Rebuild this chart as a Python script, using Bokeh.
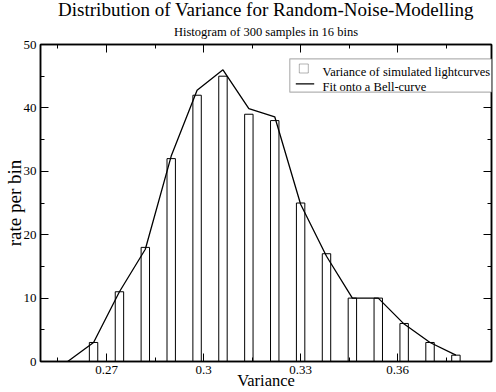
from bokeh.plotting import figure
from bokeh.models import (LinearAxis, FixedTicker, Title, Label, BoxAnnotation,
                          Range1d, CustomJSTickFormatter)
from bokeh.embed import file_html
from bokeh.resources import INLINE

# ---------------- data ----------------
title_text = "Distribution of Variance for Random-Noise-Modelling"
subtitle_text = "Histogram of 300 samples in 16 bins"
x_label = "Variance"
y_label = "rate per bin"
legend_hist = "Variance of simulated lightcurves"
legend_fit = "Fit onto a Bell-curve"

bin_centers = [0.258, 0.266, 0.274, 0.282, 0.290, 0.298, 0.306, 0.314,
               0.322, 0.330, 0.338, 0.346, 0.354, 0.362, 0.370, 0.378]
counts = [0, 3, 11, 18, 32, 42, 45, 39, 38, 25, 17, 10, 10, 6, 3, 1]
fit_values = [0, 3, 11, 17.7, 32.4, 42.8, 46, 39.9, 38.6, 24.8, 16.6, 10, 10, 5.9, 3, 1]

x_ticks = [0.27, 0.30, 0.33, 0.36]
x_minor_ticks = [0.255, 0.285, 0.315, 0.345, 0.375]
y_ticks = [0, 10, 20, 30, 40, 50]
y_minor_ticks = [5, 15, 25, 35, 45]

FONT = "Liberation Serif"

p = figure(width=496, height=392,
           x_range=Range1d(0.2496, 0.3890), y_range=Range1d(0, 50),
           output_backend="svg", toolbar_location=None,
           min_border_left=38, min_border_right=5, min_border_top=44,
           min_border_bottom=31, title=title_text)
p.styles = {"position": "absolute", "left": "0px", "top": "0px"}
p.background_fill_color = "white"
p.border_fill_color = "white"
p.outline_line_color = "black"
p.outline_line_width = 1.5
p.grid.visible = False

p.title.align = "center"
p.title.text_font = FONT
p.title.text_font_size = "19px"
p.title.text_font_style = "normal"
p.title.text_color = "black"
p.title.standoff = -7

sub = Title(text=subtitle_text, align="center", text_font=FONT,
            text_font_size="12.5px", text_font_style="normal",
            text_color="black", standoff=12)

xt = FixedTicker(ticks=x_ticks, minor_ticks=x_minor_ticks)
yt = FixedTicker(ticks=y_ticks, minor_ticks=y_minor_ticks)
xfmt = CustomJSTickFormatter(code="return tick.toString();")


def style_axis(ax, show):
    ax.axis_line_width = 1.5
    ax.axis_line_color = "black"
    ax.major_tick_in = 8
    ax.major_tick_out = 0
    ax.minor_tick_in = 4
    ax.minor_tick_out = 0
    ax.major_tick_line_color = "black"
    ax.minor_tick_line_color = "black"
    ax.major_tick_line_width = 1
    ax.minor_tick_line_width = 1
    ax.major_label_text_font = FONT
    if show:
        ax.major_label_text_color = "black"
        ax.major_label_text_font_size = "13px"
        ax.major_label_standoff = 4
    else:
        ax.major_label_text_color = None
        ax.major_label_text_font_size = "0px"
        ax.major_label_standoff = 0


xa = p.xaxis[0]
xa.ticker = xt
xa.formatter = xfmt
style_axis(xa, True)
xa.axis_label = x_label
xa.axis_label_text_font = FONT
xa.axis_label_text_font_size = "16.5px"
xa.axis_label_text_font_style = "normal"
xa.axis_label_text_color = "black"
xa.axis_label_standoff = -6

ya = p.yaxis[0]
ya.ticker = yt
style_axis(ya, True)
ya.axis_label = y_label
ya.axis_label_text_font = FONT
ya.axis_label_text_font_size = "19px"
ya.axis_label_text_font_style = "normal"
ya.axis_label_text_color = "black"
ya.axis_label_standoff = -4

top_ax = LinearAxis(ticker=xt, formatter=xfmt)
style_axis(top_ax, False)
right_ax = LinearAxis(ticker=yt)
style_axis(right_ax, False)
p.add_layout(top_ax, "above")
p.add_layout(sub, "above")
p.add_layout(right_ax, "right")

# ---------------- glyphs ----------------
p.vbar(x=bin_centers, top=counts, bottom=0, width=0.0026,
       fill_color=None, line_color="black", line_width=1)
p.line(bin_centers, fit_values, line_color="black", line_width=1.3)

# ---------------- legend (frame-relative screen units) ----------------
box = BoxAnnotation(left=249.3, right=456, bottom=269.3, top=302.7,
                    left_units="screen", right_units="screen",
                    top_units="screen", bottom_units="screen",
                    fill_color="white", fill_alpha=1,
                    line_color="black", line_width=1.2)
sq = BoxAnnotation(left=258.8, right=267.8, bottom=288.5, top=297.5,
                   left_units="screen", right_units="screen",
                   top_units="screen", bottom_units="screen",
                   fill_color="white", fill_alpha=1,
                   line_color="black", line_width=1)
ln = BoxAnnotation(left=255.3, right=273.7, bottom=277.0, top=278.3,
                   left_units="screen", right_units="screen",
                   top_units="screen", bottom_units="screen",
                   fill_color="black", fill_alpha=1, line_color=None)
p.add_layout(box)
p.add_layout(sq)
p.add_layout(ln)
p.add_layout(Label(x=282, y=289.5, x_units="screen", y_units="screen",
                   text=legend_hist, text_font=FONT, text_font_size="12.5px",
                   text_baseline="alphabetic", text_color="black"))
p.add_layout(Label(x=282, y=275, x_units="screen", y_units="screen",
                   text=legend_fit, text_font=FONT, text_font_size="12.5px",
                   text_baseline="alphabetic", text_color="black"))

open("out.html", "w").write(file_html(p, INLINE))
